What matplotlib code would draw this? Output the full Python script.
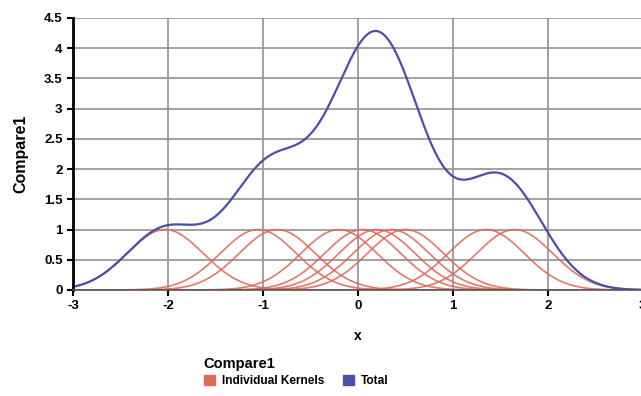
import numpy as np
import matplotlib
matplotlib.use("Agg")
import matplotlib.pyplot as plt
from matplotlib.patches import Patch

plt.rcParams['font.family'] = ['Liberation Sans', 'DejaVu Sans']
plt.rcParams['axes.unicode_minus'] = False

# kernel centres and bandwidth
centers = [-2.03, -1.05, -0.85, -0.2, 0.05, 0.2, 0.35, 0.5, 1.35, 1.65]
bandwidth = 0.4
x_ticks = [-3, -2, -1, 0, 1, 2, 3]
y_ticks = [0, 0.5, 1, 1.5, 2, 2.5, 3, 3.5, 4, 4.5]
y_ticklabels = ['0', '0.5', '1', '1.5', '2', '2.5', '3', '3.5', '4', '4.5']

red = '#de6a5c'
blue = '#4b4fa6'

x = np.linspace(-3, 3, 601)
kernels = [np.exp(-(x - c) ** 2 / (2 * bandwidth ** 2)) for c in centers]
total = np.sum(kernels, axis=0)

fig = plt.figure(figsize=(6.41, 3.96), dpi=100)
ax = fig.add_axes([0.1139, 0.2677, 0.889, 0.687])

for k in kernels:
    ax.plot(x, k, color=red, lw=1.2, alpha=0.9)
ax.plot(x, total, color=blue, lw=1.6)

ax.set_xlim(-3, 3)
ax.set_ylim(0, 4.5)
ax.set_xticks(x_ticks)
ax.set_yticks(y_ticks)
ax.set_yticklabels(y_ticklabels)
ax.grid(True, color='#9a9a9a', lw=1.3)
ax.set_axisbelow(True)
for s in ['top', 'right']:
    ax.spines[s].set_visible(False)
ax.spines['left'].set_linewidth(2)
ax.spines['bottom'].set_linewidth(1.2)
ax.spines['bottom'].set_color('#555555')
ax.tick_params(axis='both', labelsize=9.5, width=1.5, length=4)
for lab in ax.get_xticklabels() + ax.get_yticklabels():
    lab.set_fontweight('bold')

ax.set_xlabel('x', fontsize=10, fontweight='bold', labelpad=12)
ax.set_ylabel('Compare1', fontsize=11.5, fontweight='bold', labelpad=11)

handles = [Patch(color=red, label='Individual Kernels'),
           Patch(color=blue, label='Total')]
leg = fig.legend(handles=handles, loc='upper left', bbox_to_anchor=(0.318, 0.098),
                 ncol=2, frameon=False, title='Compare1', alignment='left',
                 prop={'weight': 'bold', 'size': 8.6},
                 title_fontproperties={'weight': 'bold', 'size': 10.5},
                 handlelength=0.9, handleheight=0.9, handletextpad=0.6,
                 columnspacing=1.6, borderpad=0, borderaxespad=0, labelspacing=0.3)

fig.savefig('out.png', dpi=100)
